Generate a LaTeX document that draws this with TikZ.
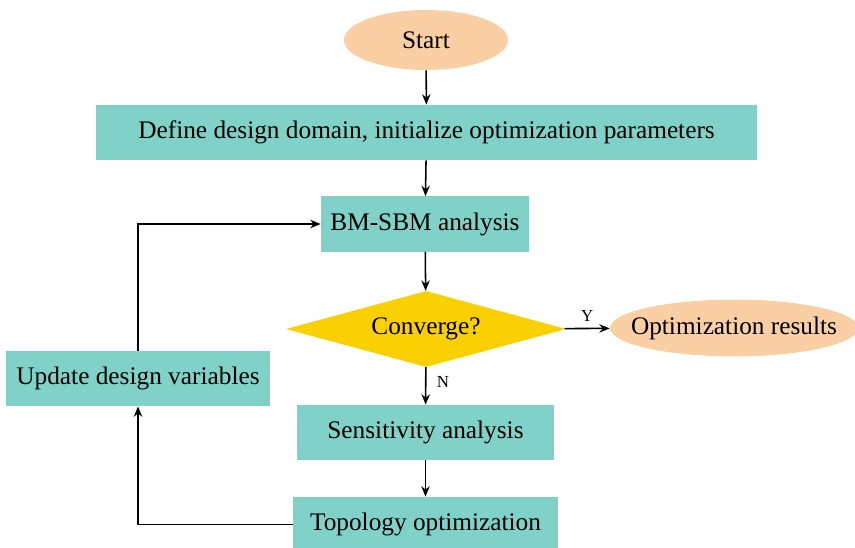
\documentclass[tikz,border=0pt]{standalone}
\usepackage{fontspec}
\setmainfont{Liberation Serif}
\usetikzlibrary{arrows.meta,shapes.geometric}

\definecolor{boxteal}{HTML}{80D2C8}
\definecolor{endpeach}{HTML}{F9CFA3}
\definecolor{testgold}{HTML}{FBD000}

\begin{document}
\begin{tikzpicture}
      [x = 0.025cm, y = -0.025cm,
      font = \fontsize{18}{21}\selectfont,
      flow/.style={-{Stealth[length = 2.6mm, width = 2.1mm]}, line width = 1.1pt},
      terminal/.style= {
         ellipse,
         fill = endpeach,
         inner sep = 0pt
      },
      process/.style= {
         rectangle,
         fill = boxteal,
         inner sep = 0pt,
         minimum height = 1.38cm
      },
      decision/.style= {
         diamond,
         fill = testgold,
         aspect = 3.7,
         inner sep = 0pt,
         minimum width = 7cm,
         minimum height = 1.9cm
      },
      branch/.style= {
         font = \fontsize{12}{14}\selectfont
      }]
      \useasboundingbox (0, 0) rectangle (855, 547);

      \node[terminal, minimum width = 4.1cm, minimum height = 1.5cm] (start) at (426, 40) {Start};
      \node[process, minimum width = 16.5cm] (define) at (426.5, 132.5)
         {Define design domain, initialize optimization parameters};
      \node[process, minimum width = 5.2cm] (bmsbm) at (425, 224) {BM-SBM analysis};
      \node[decision] (conv) at (426, 329) {Converge?};
      \node[terminal, inner xsep = -12pt, minimum width = 6.2cm, minimum height = 1.42cm]
         (result) at (734, 328) {Optimization results};
      \node[process, minimum width = 6.4cm] (sens) at (425.5, 432.5) {Sensitivity analysis};
      \node[process, minimum width = 6.6cm] (topo) at (425.5, 524.5) {Topology optimization};
      \node[process, minimum width = 6.6cm] (update) at (138, 378.5) {Update design variables};

      \draw[flow] (start) -- (define);
      \draw[flow] (define) -- (bmsbm);
      \draw[flow] (bmsbm) -- (conv);
      \draw[flow] (conv) -- node[branch, above, yshift = 1pt] {Y} (result);
      \draw[flow] (conv) -- node[branch, right, pos = 0.4, xshift = 4pt] {N} (sens);
      \draw[flow] (sens) -- (topo);
      \draw[flow] (topo.west) -| (update.south);
      \draw[flow] (update.north) |- (bmsbm.west);

   \end{tikzpicture}
\end{document}
